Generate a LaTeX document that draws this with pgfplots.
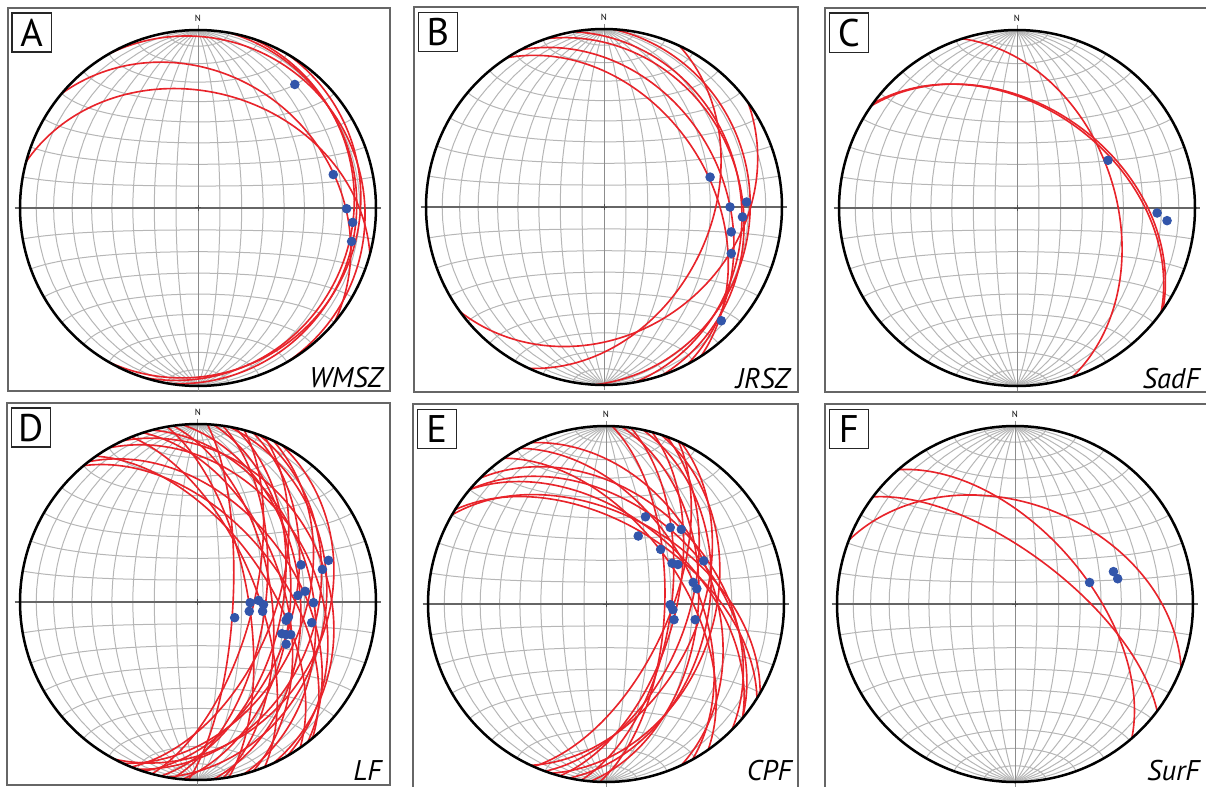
\documentclass[border=0pt]{standalone}
\usepackage{pgfplots}
\usepackage{pgfplotstable}
\pgfplotsset{compat=1.18}
\usepackage{fontspec}
\setmainfont{PT Sans}

\definecolor{netgray}{RGB}{182,182,182}
\definecolor{gcred}{RGB}{232,35,42}
\definecolor{poleblue}{RGB}{50,85,170}

% plane orientations (dip direction, dip) read off each net
\pgfplotstableread{
dipdir dip
100 12
108 14
120 11
60 8
15 35
40 27
}\planesA
\pgfplotstableread{
dipdir dip
57 40
62 33
71 24
80 24
93 19
115 40
144 30
}\planesB
\pgfplotstableread{
dipdir dip
72 44
35 42
36 43
}\planesC
\pgfplotstableread{
dipdir dip
50 52
52 45
55 58
60 34
65 28
68 63
72 50
75 36
80 67
82 56
85 42
93 74
95 47
98 59
100 29
102 51
105 65
108 46
110 34
112 55
115 41
118 29
}\planesD
\pgfplotstableread{
dipdir dip
30 49
32 53
40 44
40 50
45 40
55 55
61 49
65 40
92 63
95 47
98 60
102 42
105 58
108 39
110 52
114 61
115 47
}\planesE
\pgfplotstableread{
dipdir dip
49 57
37 67
21 43
}\planesF

% blue points, in units of the net radius
\pgfplotstableread{
x y
0.544 0.694
0.760 0.188
0.835 -0.004
0.869 -0.081
0.863 -0.188
}\polesA
\pgfplotstableread{
x y
0.596 0.168
0.708 0.000
0.801 0.028
0.778 -0.056
0.715 -0.140
0.715 -0.261
0.659 -0.639
}\polesB
\pgfplotstableread{
x y
0.511 0.268
0.787 -0.028
0.843 -0.071
}\polesC
\pgfplotstableread{
x y
0.733 0.234
0.579 0.209
0.699 0.183
0.602 0.060
0.561 0.037
0.649 -0.004
0.639 -0.116
0.293 -0.004
0.340 0.009
0.368 -0.015
0.288 -0.052
0.363 -0.052
0.206 -0.088
0.508 -0.084
0.495 -0.103
0.471 -0.178
0.495 -0.183
0.521 -0.183
0.495 -0.237
}\polesD
\pgfplotstableread{
x y
0.222 0.490
0.361 0.430
0.423 0.419
0.181 0.382
0.307 0.307
0.371 0.229
0.404 0.222
0.549 0.242
0.490 0.121
0.510 0.086
0.361 -0.004
0.376 -0.032
0.382 -0.088
0.501 -0.088
}\polesE
\pgfplotstableread{
x y
0.419 0.121
0.553 0.182
0.577 0.142
}\polesF

\pgfplotsset{
  netline/.style={draw=netgray, line width=0.4pt, mark=none, domain=0:180, samples=41},
  ewline/.style={draw=black!60, line width=0.45pt, mark=none},
  gcline/.style={draw=gcred, line width=0.65pt, mark=none, domain=0:180, samples=91},
  prim/.style={draw=black, line width=1pt, mark=none, domain=0:360, samples=181},
  poles/.style={only marks, mark=*, mark size=1.7pt, mark options={draw=poleblue, fill=poleblue}},
  stereo/.style={anchor=south west, x=71.2pt, y=71.2pt, ticks=none,
    axis line style={draw=black!60, line width=0.5pt}},
}

% equal-area (Schmidt) net, lower hemisphere
\newcommand{\schmidtnet}{%
  \pgfplotsinvokeforeach{10,20,30,40,50,60,70,80}{%
    \addplot[netline] ({sin(x)*cos(##1)/sqrt(1+sin(x)*sin(##1))},{cos(x)/sqrt(1+sin(x)*sin(##1))});
    \addplot[netline] ({-sin(x)*cos(##1)/sqrt(1+sin(x)*sin(##1))},{cos(x)/sqrt(1+sin(x)*sin(##1))});
    \addplot[netline] ({sin(##1)*cos(x)/sqrt(1+sin(##1)*sin(x))},{cos(##1)/sqrt(1+sin(##1)*sin(x))});
    \addplot[netline] ({sin(##1)*cos(x)/sqrt(1+sin(##1)*sin(x))},{-cos(##1)/sqrt(1+sin(##1)*sin(x))});
  }%
  \addplot[netline, draw=black!45] coordinates {(0,-1.03) (0,1.03)};
  \addplot[ewline] coordinates {(-1.03,0) (1.03,0)};
}
\newcommand{\greatcircles}[1]{%
  \pgfplotstablegetrowsof{#1}%
  \pgfmathtruncatemacro\gclast{\pgfplotsretval-1}%
  \pgfplotsinvokeforeach{0,...,\gclast}{%
    \pgfplotstablegetelem{##1}{dipdir}\of{#1}\edef\gcaz{\pgfplotsretval}%
    \pgfplotstablegetelem{##1}{dip}\of{#1}\edef\gcdip{\pgfplotsretval}%
    \addplot[gcline] ({(-cos(x)*cos(\gcaz)+sin(x)*cos(\gcdip)*sin(\gcaz))/sqrt(1+sin(x)*sin(\gcdip))},
                      {(cos(x)*sin(\gcaz)+sin(x)*cos(\gcdip)*cos(\gcaz))/sqrt(1+sin(x)*sin(\gcdip))});
  }%
}
\newcommand{\primcircle}{%
  \addplot[prim] ({cos(x)},{sin(x)});
  \addplot[mark=+, mark size=1.3pt, draw=black!70, line width=0.4pt] coordinates {(0,0)};
}
% #1 letter, #2 name, #3 #4 shift of the name from the lower right corner
\newcommand{\panellabels}[4]{%
  \node[draw=black!85, line width=0.6pt, minimum size=15.6pt, inner sep=0pt, anchor=north west,
    font=\fontsize{15.4}{16}\selectfont] at ([xshift=1.4pt,yshift=-1.8pt]rel axis cs:0,1) {#1};
  \node[anchor=base east, inner sep=0pt, font=\fontsize{11.4}{12}\selectfont\itshape]
    at ([xshift=#3,yshift=#4]rel axis cs:1,0) {#2};
  \node[inner sep=0pt, font=\fontsize{3.6}{4}\selectfont] at (axis cs:0,1.067) {N};
}

\begin{document}
\begin{tikzpicture}
\useasboundingbox (0,0) rectangle (482.4pt,314.4pt);
\clip (0,0) rectangle (482.4pt,314.4pt);

\begin{axis}[stereo, at={(3.2pt,158pt)}, xmin=-1.0674, xmax=1.0787, ymin=-1.0281, ymax=1.1236]
\schmidtnet
\greatcircles{\planesA}
\primcircle
\addplot[poles] table[x=x,y=y] {\polesA};
\panellabels{A}{WMSZ}{-2.8pt}{1.6pt}
\end{axis}

\begin{axis}[stereo, at={(165.6pt,157.6pt)}, xmin=-1.0674, xmax=1.0899, ymin=-1.0393, ymax=1.1236]
\schmidtnet
\greatcircles{\planesB}
\primcircle
\addplot[poles] table[x=x,y=y] {\polesB};
\panellabels{B}{JRSZ}{-3.2pt}{1.6pt}
\end{axis}

\begin{axis}[stereo, at={(330pt,157.6pt)}, xmin=-1.0787, xmax=1.0843, ymin=-1.0337, ymax=1.1236]
\schmidtnet
\greatcircles{\planesC}
\primcircle
\addplot[poles] table[x=x,y=y] {\polesC};
\panellabels{C}{SadF}{-4pt}{1.6pt}
\end{axis}

\begin{axis}[stereo, at={(2.8pt,0.4pt)}, xmin=-1.0730, xmax=1.0787, ymin=-1.0281, ymax=1.1180]
\schmidtnet
\greatcircles{\planesD}
\primcircle
\addplot[poles] table[x=x,y=y] {\polesD};
\panellabels{D}{LF}{-3.2pt}{2pt}
\end{axis}

\begin{axis}[stereo, at={(165.2pt,-0.8pt)}, xmin=-1.0843, xmax=1.0787, ymin=-1.0337, ymax=1.1236]
\schmidtnet
\greatcircles{\planesE}
\primcircle
\addplot[poles] table[x=x,y=y] {\polesE};
\panellabels{E}{CPF}{-2.4pt}{3.2pt}
\end{axis}

\begin{axis}[stereo, at={(330pt,-0.8pt)}, xmin=-1.0674, xmax=1.0955, ymin=-1.0337, ymax=1.1236]
\schmidtnet
\greatcircles{\planesF}
\primcircle
\addplot[poles] table[x=x,y=y] {\polesF};
\panellabels{F}{SurF}{-4pt}{3.2pt}
\end{axis}
\end{tikzpicture}
\end{document}
